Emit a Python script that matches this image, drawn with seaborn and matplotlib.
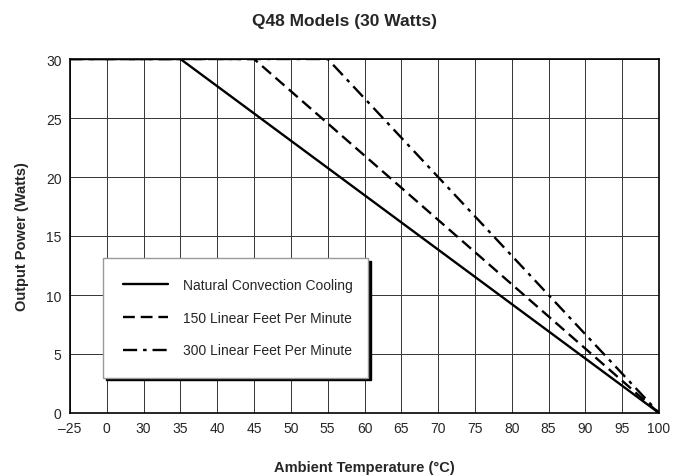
import seaborn as sns
import matplotlib.pyplot as plt
import pandas as pd
import numpy as np

sns.set_style("white")
plt.rcParams['font.family'] = ['Liberation Sans', 'DejaVu Sans']

# x axis is categorical-like: ticks equally spaced
tick_vals = [-25, 0, 30, 35, 40, 45, 50, 55, 60, 65, 70, 75, 80, 85, 90, 95, 100]
tick_labels = ["\u201325"] + [str(v) for v in tick_vals[1:]]

# derating curves (temperature, output power)
natural_temp = [-25, 35, 100]
natural_power = [30, 30, 0]
lfm150_temp = [-25, 45, 100]
lfm150_power = [30, 30, 0]
lfm300_temp = [-25, 55, 100]
lfm300_power = [30, 30, 0]

series = [
    ("Natural Convection Cooling", natural_temp, natural_power, "-"),
    ("150 Linear Feet Per Minute", lfm150_temp, lfm150_power, (0, (5, 2.5))),
    ("300 Linear Feet Per Minute", lfm300_temp, lfm300_power, (0, (6, 2.5, 1.5, 2.5))),
]

fig = plt.figure(figsize=(6.9, 4.77), dpi=100)
ax = fig.add_axes([70 / 690, 63 / 477, 589 / 690, 354 / 477])

positions = np.arange(len(tick_vals))
for i, (label, temp, power, ls) in enumerate(series):
    df = pd.DataFrame({"pos": np.interp(temp, tick_vals, positions), "power": power})
    sns.lineplot(data=df, x="pos", y="power", ax=ax, color="black", lw=1.7,
                 linestyle=ls, label=label, zorder=5 - i)

ax.set_xlim(0, len(tick_vals) - 1)
ax.set_ylim(0, 30)
ax.set_xticks(positions)
ax.set_xticklabels(tick_labels, fontsize=10)
ax.set_yticks(range(0, 31, 5))
ax.tick_params(axis="both", length=0, labelsize=10, pad=6)
ax.grid(True, color="#333333", lw=0.7)
for s in ax.spines.values():
    s.set_color("black")
    s.set_linewidth(1.2)

ax.set_xlabel("Ambient Temperature (\u00b0C)", fontsize=10.5, fontweight="bold", labelpad=18)
ax.set_ylabel("Output Power (Watts)", fontsize=10.5, fontweight="bold", labelpad=12)
fig.suptitle("Q48 Models (30 Watts)", fontsize=12.5, fontweight="bold", y=0.97,
             family=['Liberation Sans Narrow', 'Liberation Sans', 'DejaVu Sans'])

leg = ax.legend(loc="lower left", bbox_to_anchor=(0.056, 0.10, 0.45, 0.34), mode="expand",
                borderaxespad=0, fontsize=10, frameon=True, fancybox=False,
                handlelength=3.2, handletextpad=1.1, labelspacing=1.35, borderpad=1.45,
                shadow={"color": "black", "alpha": 1})
leg.get_frame().set_edgecolor("#999999")
leg.get_frame().set_linewidth(1.0)
leg.get_frame().set_alpha(1)

plt.savefig("out.png", dpi=100)
plt.close()
